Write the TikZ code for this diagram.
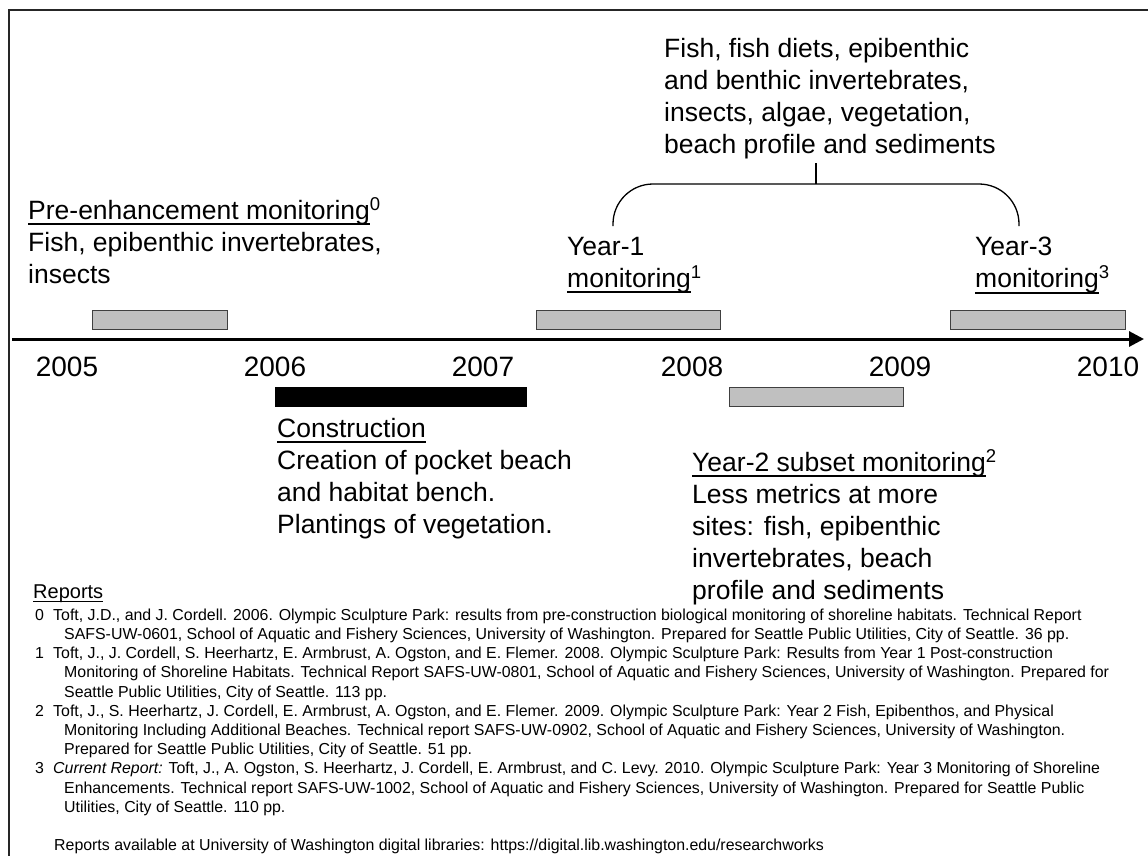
\documentclass[tikz,border=0pt]{standalone}
\usepackage{fontspec}
\setmainfont{Liberation Sans}
\usetikzlibrary{arrows.meta}
\definecolor{bargray}{RGB}{192,192,192}
\newsavebox\myulbox
\newcommand\ulx[1]{\sbox\myulbox{#1}\rlap{\rule[-0.22em]{\wd\myulbox}{0.07em}}\usebox\myulbox}
\newcommand\sups[1]{\smash{\textsuperscript{#1}}}
\tikzset{
  txt/.style={font=\fontsize{26.5}{32}\selectfont, align=left, inner sep=0pt, anchor=north west},
  yearlbl/.style={font=\fontsize{28}{32}\selectfont, inner sep=0pt},
  graybar/.style={draw=black!75, fill=bargray, line width=0.9pt, minimum height=19pt, inner sep=0pt},
  blackbar/.style={draw=black, fill=black, minimum height=19pt, inner sep=0pt},
  axisline/.style={line width=3pt, -{Triangle[length=15pt,width=15pt]}},
  braceline/.style={line width=1.3pt, rounded corners=40pt},
  frameline/.style={line width=2pt, black!85},
  reptxt/.style={font=\fontsize{15.9}{19.2}\selectfont, inner sep=0pt, anchor=north west}
}
\begin{document}
\begin{tikzpicture}[x=1pt,y=-1pt]
\useasboundingbox (0,0) rectangle (1148,855);
% frame
\draw[frameline] (9,856) -- (9,10) -- (1149,10);

% axis
\coordinate (axL) at (12,339);
\coordinate (axR) at (1144,339);
\draw[axisline] (axL) -- (axR);

% years
\node[yearlbl] (y2005) at (67,367) {2005};
\node[yearlbl] (y2006) at (275,367) {2006};
\node[yearlbl] (y2007) at (483,367) {2007};
\node[yearlbl] (y2008) at (692,367) {2008};
\node[yearlbl] (y2009) at (900,367) {2009};
\node[yearlbl] (y2010) at (1108,367) {2010};

% bars
\node[graybar, minimum width=135pt] (barpre) at (159.5,320) {};
\node[graybar, minimum width=184pt] (bar1) at (628,320) {};
\node[graybar, minimum width=175pt] (bar3) at (1037.5,320) {};
\node[graybar, minimum width=174pt] (bar2) at (816,397) {};
\node[blackbar, minimum width=251pt] (barcon) at (400.5,397) {};

% top measures text and brace
\node[txt] (measures) at (664,38) {Fish, fish diets, epibenthic\\and benthic invertebrates,\\insects, algae, vegetation,\\beach profile and sediments};
\coordinate (tickT) at (816,163);
\coordinate (tickB) at (816,184);
\coordinate (brL) at (613,226);
\coordinate (brR) at (1019,226);
\draw[line width=1.3pt] (tickT) -- (tickB);
\draw[braceline] (brL) -- (brL |- tickB) -- (brR |- tickB) -- (brR);

% labels
\node[txt] (pre) at (28,200) {\ulx{Pre-enhancement monitoring}\sups{0}\\Fish, epibenthic invertebrates,\\insects};
\node[txt] (yr1) at (567,237) {Year-1\\\ulx{monitoring}\sups{1}};
\node[txt] (yr3) at (975,237) {Year-3\\\ulx{monitoring}\sups{3}};
\node[txt] (con) at (277,418) {\ulx{Construction}\\Creation of pocket beach\\and habitat bench.\\Plantings of vegetation.};
\node[txt] (yr2) at (692,452) {\ulx{Year-2 subset monitoring}\sups{2}\\Less metrics at more\\sites: fish, epibenthic\\invertebrates, beach\\profile and sediments};

% reports
\node[font=\fontsize{20}{22}\selectfont, inner sep=0pt, anchor=base west] (rephead) at (33,598) {\ulx{Reports}};
\node[reptxt] (reports) at (35,606.6) {%
\begin{tabular}{@{}p{18pt}@{}l@{}}
0 & Toft, J.D., and J. Cordell. 2006. Olympic Sculpture Park: results from pre-construction biological monitoring of shoreline habitats. Technical Report\\
  & \hspace*{11pt}SAFS-UW-0601, School of Aquatic and Fishery Sciences, University of Washington. Prepared for Seattle Public Utilities, City of Seattle. 36 pp.\\
1 & Toft, J., J. Cordell, S. Heerhartz, E. Armbrust, A. Ogston, and E. Flemer. 2008. Olympic Sculpture Park: Results from Year 1 Post-construction\\
  & \hspace*{11pt}Monitoring of Shoreline Habitats. Technical Report SAFS-UW-0801, School of Aquatic and Fishery Sciences, University of Washington. Prepared for\\
  & \hspace*{11pt}Seattle Public Utilities, City of Seattle. 113 pp.\\
2 & Toft, J., S. Heerhartz, J. Cordell, E. Armbrust, A. Ogston, and E. Flemer. 2009. Olympic Sculpture Park: Year 2 Fish, Epibenthos, and Physical\\
  & \hspace*{11pt}Monitoring Including Additional Beaches. Technical report SAFS-UW-0902, School of Aquatic and Fishery Sciences, University of Washington.\\
  & \hspace*{11pt}Prepared for Seattle Public Utilities, City of Seattle. 51 pp.\\
3 & \textit{Current Report:} Toft, J., A. Ogston, S. Heerhartz, J. Cordell, E. Armbrust, and C. Levy. 2010. Olympic Sculpture Park: Year 3 Monitoring of Shoreline\\
  & \hspace*{11pt}Enhancements. Technical report SAFS-UW-1002, School of Aquatic and Fishery Sciences, University of Washington. Prepared for Seattle Public\\
  & \hspace*{11pt}Utilities, City of Seattle. 110 pp.
\end{tabular}};
\node[font=\fontsize{15.9}{19.2}\selectfont, inner sep=0pt, anchor=base west] (avail) at (54,850) {Reports available at University of Washington digital libraries: https://digital.lib.washington.edu/researchworks};
\end{tikzpicture}
\end{document}
